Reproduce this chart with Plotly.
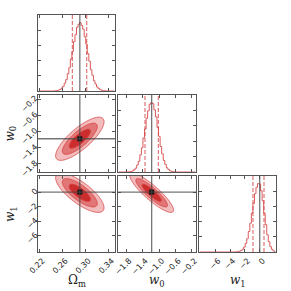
import numpy as np
import plotly.graph_objects as go

# ---------------- data ----------------
PARAM_LABELS = ["Ω<sub>m</sub>", "<i>w</i><sub>0</sub>", "<i>w</i><sub>1</sub>"]
TRUTHS = [0.29, -1.18, 0.0]
RANGES = [[0.2175, 0.351], [-2.0, -0.1], [-8.2, 2.2]]
TICKS = [[0.22, 0.26, 0.30, 0.34], [-1.8, -1.4, -1.0, -0.6, -0.2], [-6, -4, -2, 0]]
TICK_FORMATS = [".2f", ".1f", "d"]
QUANTILES = [[0.277, 0.302], [-1.342, -1.018], [-0.91, 0.58]]
N_BINS = 50

HIST_OM = [0, 0, 0, 0, 0, 0, 0, 0, 0, 0,
           1, 3, 7, 14, 22, 44, 69, 116, 168, 254,
           342, 470, 581, 722, 826, 934, 978, 1003, 962, 908,
           795, 688, 547, 436, 312, 231, 150, 102, 60, 38,
           20, 12, 6, 3, 1, 0, 0, 0, 0, 0]
HIST_W0 = [0, 0, 0, 0, 0, 0, 1, 3, 8, 15,
           33, 55, 101, 155, 248, 347, 490, 618, 772, 879,
           975, 996, 981, 893, 792, 641, 511, 366, 262, 166,
           109, 60, 36, 17, 9, 4, 2, 1, 0, 0,
           0, 0, 0, 0, 0, 0, 0, 0, 0, 0]
HIST_W1 = [0, 0, 0, 0, 0, 0, 0, 0, 0, 0,
           0, 0, 0, 0, 0, 0, 0, 0, 0, 0,
           0, 0, 0, 1, 3, 6, 12, 22, 41, 71,
           125, 193, 298, 418, 565, 706, 846, 940, 993, 985,
           890, 745, 561, 397, 249, 148, 78, 40, 17, 7]
HISTS = [HIST_OM, HIST_W0, HIST_W1]

# 2D posterior summary (means, widths, correlations)
MEANS = [0.29, -1.18, -0.1]
SIGMAS = [0.0122, 0.155, 0.78]
CORR = {(0, 1): 0.79, (0, 2): -0.76, (1, 2): -0.88}
LEVEL_RADII = [1.515, 2.486, 3.439]  # 1, 2, 3 sigma (2D)

# ---------------- style ----------------
FILLS = ["rgb(243,188,188)", "rgb(226,118,118)", "rgb(204,45,45)"]
EDGE = "rgb(212,62,62)"
HIST_COLOR = "rgba(214,72,72,0.9)"
TRUTH_COLOR = "rgba(70,70,70,0.75)"
FRAME = "#555555"

W = H = 291
COLS = [(38, 115), (118, 196), (199, 276)]
ROWS = [(15, 91), (95, 172), (176, 252)]


def xdom(c):
    return [COLS[c][0] / W, COLS[c][1] / W]


def ydom(r):
    return [1 - ROWS[r][1] / H, 1 - ROWS[r][0] / H]


# panels: (row, col, x param, y param or None)
PANELS = [(0, 0, 0, None), (1, 0, 0, 1), (1, 1, 1, None),
          (2, 0, 0, 2), (2, 1, 1, 2), (2, 2, 2, None)]

fig = go.Figure()
layout = dict(width=W, height=H, margin=dict(l=0, r=0, t=0, b=0, pad=0),
              autosize=False, paper_bgcolor="white", plot_bgcolor="white",
              showlegend=False, shapes=[], annotations=[],
              font=dict(family="DejaVu Sans", size=8, color="#222"))

for k, (r, c, px, py) in enumerate(PANELS):
    n = "" if k == 0 else str(k + 1)
    xa, ya = "x" + n, "y" + n
    xkey, ykey = "xaxis" + n, "yaxis" + n
    bottom = (r == 2)
    left = (c == 0 and py is not None)
    common = dict(showline=True, mirror="ticks", ticks="inside", ticklen=3,
                  tickwidth=1, tickcolor=FRAME, linecolor=FRAME, linewidth=1,
                  showgrid=False, zeroline=False, tickangle=-45, automargin=False,
                  tickfont=dict(family="DejaVu Sans", size=8, color="#222"))
    layout[xkey] = dict(domain=xdom(c), anchor=ya, range=RANGES[px],
                        tickvals=TICKS[px], tickformat=TICK_FORMATS[px],
                        showticklabels=bottom, ticklabelshift=3, **common)
    if py is None:
        counts = np.array(HISTS[px], dtype=float)
        ymax = counts.max() / 0.9
        lo, hi = RANGES[px]
        edges = np.linspace(lo, hi, N_BINS + 1)
        centers = 0.5 * (edges[:-1] + edges[1:])
        fig.add_trace(go.Scatter(x=centers, y=counts, mode="lines",
                                 line=dict(color=HIST_COLOR, width=1, shape="hvh"),
                                 xaxis=xa, yaxis=ya, hoverinfo="skip"))
        layout[ykey] = dict(domain=ydom(r), anchor=xa, range=[0, ymax],
                            tickvals=[ymax * i / 5 for i in range(1, 5)],
                            showticklabels=False, **common)
        for q in QUANTILES[px]:
            layout["shapes"].append(dict(type="line", xref=xa, yref=ya + " domain",
                                         x0=q, x1=q, y0=0, y1=1,
                                         line=dict(color=HIST_COLOR, width=1, dash="4px,2px")))
        layout["shapes"].append(dict(type="line", xref=xa, yref=ya + " domain",
                                     x0=TRUTHS[px], x1=TRUTHS[px], y0=0, y1=1,
                                     line=dict(color=TRUTH_COLOR, width=1.3)))
    else:
        layout[ykey] = dict(domain=ydom(r), anchor=xa, range=RANGES[py],
                            tickvals=TICKS[py], tickformat=TICK_FORMATS[py],
                            showticklabels=left, ticklabelshift=-2, **common)
        gx = np.linspace(RANGES[px][0], RANGES[px][1], 160)
        gy = np.linspace(RANGES[py][0], RANGES[py][1], 160)
        X, Y = np.meshgrid(gx, gy)
        u = (X - MEANS[px]) / SIGMAS[px]
        v = (Y - MEANS[py]) / SIGMAS[py]
        rho = CORR[(px, py)]
        r2 = (u * u - 2 * rho * u * v + v * v) / (1 - rho * rho)
        for lev, fc in zip(LEVEL_RADII[::-1], FILLS):
            fig.add_trace(go.Contour(
                x=gx, y=gy, z=r2, xaxis=xa, yaxis=ya, showscale=False,
                contours=dict(type="constraint", operation=">", value=lev ** 2),
                fillcolor=fc, line=dict(color=EDGE, width=0.8),
                hoverinfo="skip"))
        layout["shapes"].append(dict(type="line", xref=xa, yref=ya + " domain",
                                     x0=TRUTHS[px], x1=TRUTHS[px], y0=0, y1=1,
                                     line=dict(color=TRUTH_COLOR, width=1.3)))
        layout["shapes"].append(dict(type="line", xref=xa + " domain", yref=ya,
                                     x0=0, x1=1, y0=TRUTHS[py], y1=TRUTHS[py],
                                     line=dict(color=TRUTH_COLOR, width=1.3)))
        fig.add_trace(go.Scatter(x=[TRUTHS[px]], y=[TRUTHS[py]], mode="markers",
                                 marker=dict(symbol="square", size=5, color="#111"),
                                 xaxis=xa, yaxis=ya, hoverinfo="skip"))

# axis titles
LABEL_FONT = dict(family="DejaVu Serif", size=12, color="#222")
for c in range(3):
    layout["annotations"].append(dict(
        text=PARAM_LABELS[c], xref="paper", yref="paper",
        x=(COLS[c][0] + COLS[c][1]) / 2 / W, y=1 - 281 / H,
        showarrow=False, font=LABEL_FONT, xanchor="center", yanchor="middle"))
for r, p in [(1, 1), (2, 2)]:
    layout["annotations"].append(dict(
        text=PARAM_LABELS[p], xref="paper", yref="paper",
        x=11 / W, y=1 - (ROWS[r][0] + ROWS[r][1]) / 2 / H,
        textangle=-90, xanchor="center",
        showarrow=False, font=LABEL_FONT, yanchor="middle"))

fig.update_layout(**layout)
fig.write_html("out.html", config={"responsive": False, "displayModeBar": False},
               post_script="document.body.style.margin='0px';")
